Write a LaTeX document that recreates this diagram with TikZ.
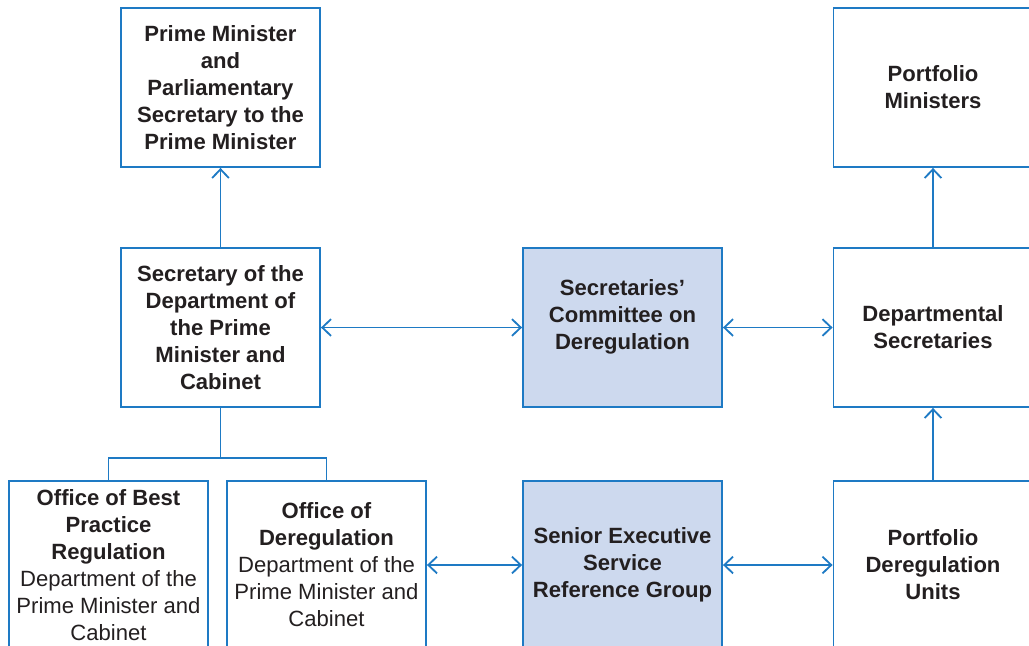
\documentclass[tikz,border=0pt]{standalone}
\usepackage{fontspec}
\setmainfont{Liberation Sans}
\usepackage{xcolor}
\usepackage{tikz}
\usetikzlibrary{positioning}
\usetikzlibrary{arrows.meta}

\definecolor{lineblue}{RGB}{30,122,196}
\definecolor{boxfill}{RGB}{205,217,238}
\definecolor{textgrey}{RGB}{35,31,32}

\begin{document}
\begin{tikzpicture}[x=0.025cm, y=-0.025cm]
	\tikzset{
		unit/.style={rectangle, draw=lineblue, line width=1.3pt, minimum width=4.975cm, minimum height=3.975cm, align=center, inner sep=0pt, text=textgrey, font=\fontsize{15.7}{19.2}\selectfont},
		lowunit/.style={unit, minimum height=4.2cm},
		link/.style={draw=lineblue, line width=1.3pt},
		tip/.style={link, -{Straight Barb[length=2.2mm, width=4.2mm]}},
		twotip/.style={link, {Straight Barb[length=2.2mm, width=4.2mm]}-{Straight Barb[length=2.2mm, width=4.2mm]}}
	}
	\useasboundingbox (0,0) rectangle (1029,645);
	\clip (0,0) rectangle (1029,645);

	% Top row
	\node[unit] (pm) at (220.5,87.5) {\textbf{Prime Minister}\\\textbf{and}\\\textbf{Parliamentary}\\\textbf{Secretary to the}\\\textbf{Prime Minister}};
	\node[unit] (ministers) at (933,87.5) {\textbf{Portfolio}\\\textbf{Ministers}};

	% Middle row
	\node[unit] (pmc) at (220.5,327.5) {\textbf{Secretary of the}\\\textbf{Department of}\\\textbf{the Prime}\\\textbf{Minister and}\\\textbf{Cabinet}};
	% empty last line lifts the text a little
	\node[unit, fill=boxfill] (committee) at (622.5,327.5) {\textbf{Secretaries’}\\\textbf{Committee on}\\\textbf{Deregulation}\\\mbox{}};
	\node[unit] (secretaries) at (933,327.5) {\textbf{Departmental}\\\textbf{Secretaries}};

	% Bottom row
	\node[lowunit] (obpr) at (108.5,565) {\textbf{Office of Best}\\\textbf{Practice}\\\textbf{Regulation}\\Department of the\\Prime Minister and\\Cabinet};
	\node[lowunit] (odr) at (326.5,565) {\textbf{Office of}\\\textbf{Deregulation}\\Department of the\\Prime Minister and\\Cabinet};
	\node[lowunit, fill=boxfill] (ses) at (622.5,565) {\textbf{Senior Executive}\\\textbf{Service}\\\textbf{Reference Group}};
	\node[lowunit] (units) at (933,565) {\textbf{Portfolio}\\\textbf{Deregulation}\\\textbf{Units}};

	% Reporting lines
	\draw[tip] (pmc) -- (pm);
	\draw[tip] (secretaries) -- (ministers);
	\draw[tip] (units.north) -- (secretaries.south);
	\draw[link] (pmc.south) -- ++(0,50) -| (obpr.north);
	\draw[link] (pmc.south) -- ++(0,50) -| (odr.north);

	% Two-way links
	\draw[twotip] (odr.east |- 0,565) -- (ses.west |- 0,565);
	\draw[twotip] (ses.east |- 0,565) -- (units.west |- 0,565);
	\draw[twotip] (pmc) -- (committee);
	\draw[twotip] (committee) -- (secretaries);
\end{tikzpicture}
\end{document}
